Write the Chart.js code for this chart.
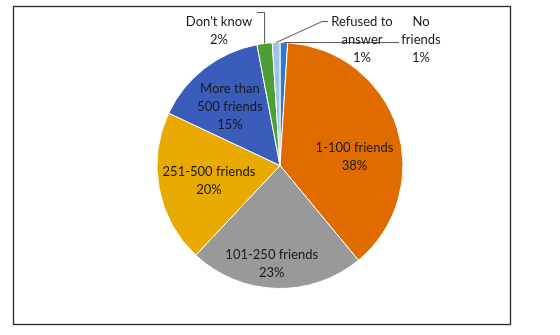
<!DOCTYPE html>
<html>
<head>
<meta charset="utf-8">
<script src="https://cdn.jsdelivr.net/npm/chart.js@4.4.1/dist/chart.umd.min.js"></script>
<style>
  html, body { margin: 0; padding: 0; background: #fff; }
  #wrap { width: 560px; height: 335px; }
</style>
</head>
<body>
<div id="wrap"><canvas id="pieChart" width="560" height="335"></canvas></div>
<script>
// Number of friends - pie chart

const categories = ['No friends', '1-100 friends', '101-250 friends', '251-500 friends',
  'More than 500 friends', "Don't know", 'Refused to answer'];
const shares = [1, 38, 23, 20, 15, 2, 1];
const labelLines = [
  ['No', 'friends'],
  ['1-100 friends'],
  ['101-250 friends'],
  ['251-500 friends'],
  ['More than', '500 friends'],
  ["Don't know"],
  ['Refused to', 'answer']
];
const sliceColors = ['#2F7BCB', '#E06C00', '#999999', '#E8A900', '#3A5DBB', '#4D9E34', '#9DC3E6'];

// label placement: inside labels use angle shift (deg) + radius fraction,
// outside labels sit at an offset from the pie centre with a leader line
const labelPlace = [
  { out: true, dx: 141, dy: -126, leader: 'h', textEdge: 118 },
  { shift: 11, r: 0.61 },
  { shift: 3, r: 0.80 },
  { shift: -1, r: 0.59 },
  { shift: -2.5, r: 0.63 },
  { out: true, dx: -61, dy: -135, leader: 'elbowR', textEdge: -23 },
  { out: true, dx: 82, dy: -126, leader: 'elbowL', textEdge: 48 }
];

const FONT = '13px Lato, "Open Sans", sans-serif';
const LINE_H = 18;

const framePlugin = {
  id: 'frame',
  beforeDraw(chart) {
    const ctx = chart.ctx;
    ctx.save();
    ctx.fillStyle = '#fff';
    ctx.fillRect(0, 0, chart.width, chart.height);
    ctx.strokeStyle = '#2b2b2b';
    ctx.lineWidth = 1.3;
    ctx.strokeRect(13.5, 6.5, 497, 318);
    ctx.restore();
  }
};

const labelPlugin = {
  id: 'sliceLabels',
  afterDatasetsDraw(chart) {
    const ctx = chart.ctx;
    const meta = chart.getDatasetMeta(0);
    const total = shares.reduce((a, b) => a + b, 0);
    ctx.save();
    ctx.font = FONT;
    ctx.fillStyle = '#1a1a1a';
    ctx.textAlign = 'center';
    ctx.textBaseline = 'middle';
    meta.data.forEach((arc, i) => {
      const p = arc.getProps(['x', 'y', 'startAngle', 'endAngle', 'outerRadius']);
      const mid = (p.startAngle + p.endAngle) / 2;
      const pct = Math.round(shares[i] / total * 100) + '%';
      const lines = labelLines[i].concat([pct]);
      const place = labelPlace[i];
      let cx, cy;
      if (place.out) {
        cx = p.x + place.dx;
        cy = p.y + place.dy;
        // leader line from slice edge to label
        const ex = p.x + Math.cos(mid) * p.outerRadius;
        const ey = p.y + Math.sin(mid) * p.outerRadius;
        const ty = cy - LINE_H;
        ctx.save();
        ctx.strokeStyle = '#555';
        ctx.lineWidth = 1;
        ctx.beginPath();
        if (place.leader === 'h') {
          ctx.moveTo(ex, ey);
          ctx.lineTo(cx - 22, ey);
        } else if (place.leader === 'elbowR') {
          ctx.moveTo(cx + 38, ty);
          ctx.lineTo(ex, ty);
          ctx.lineTo(ex, ey);
        } else {
          ctx.moveTo(cx - 34, ty);
          ctx.lineTo(cx - 40, ty);
          ctx.lineTo(ex, ey);
        }
        ctx.stroke();
        ctx.restore();
      } else {
        const a = mid + place.shift * Math.PI / 180;
        cx = p.x + Math.cos(a) * p.outerRadius * place.r;
        cy = p.y + Math.sin(a) * p.outerRadius * place.r;
      }
      const y0 = cy - (lines.length - 1) * LINE_H / 2;
      lines.forEach((t, k) => ctx.fillText(t, cx, y0 + k * LINE_H));
    });
    ctx.restore();
  }
};

const ctx = document.getElementById('pieChart');
new Chart(ctx, {
  type: 'pie',
  data: {
    labels: categories,
    datasets: [{
      data: shares,
      backgroundColor: sliceColors,
      borderColor: '#ffffff',
      borderWidth: 1,
      hoverOffset: 0
    }]
  },
  options: {
    responsive: false,
    animation: false,
    radius: 123,
    layout: { padding: { left: 157, right: 157, top: 43, bottom: 47 } },
    plugins: {
      legend: { display: false },
      tooltip: { enabled: false }
    }
  },
  plugins: [framePlugin, labelPlugin]
});
</script>
</body>
</html>
